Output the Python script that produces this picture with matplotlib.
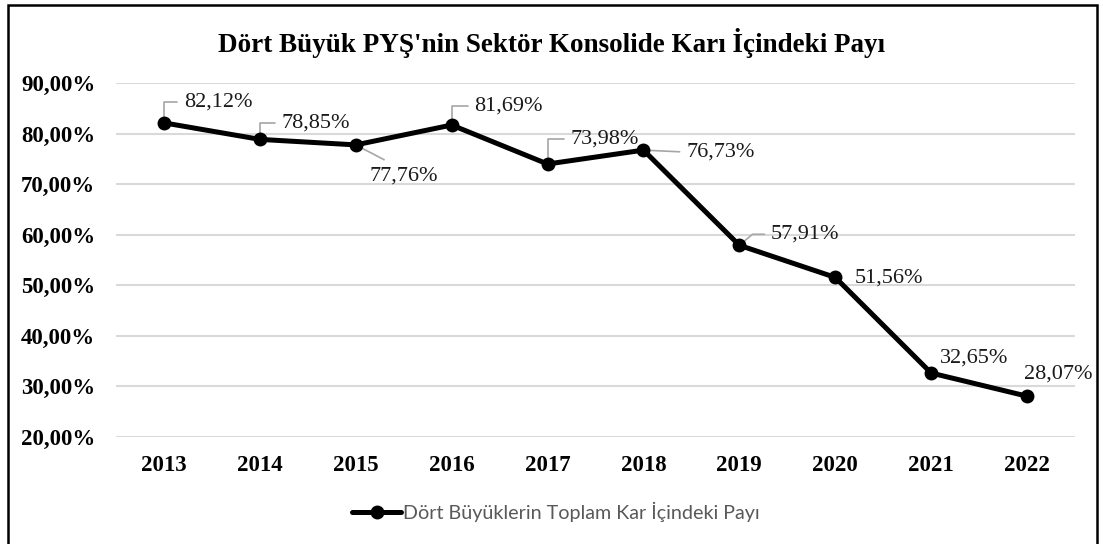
import matplotlib.pyplot as plt
from matplotlib.patches import Rectangle
from matplotlib.ticker import FuncFormatter

years = ["2013", "2014", "2015", "2016", "2017", "2018", "2019", "2020", "2021", "2022"]
share = [82.12, 78.85, 77.76, 81.69, 73.98, 76.73, 57.91, 51.56, 32.65, 28.07]

# label offsets in pixels (dx, dy) and leader style for each point
labelOffsets = [(54, 21), (56, 16), (48, -31), (57, 19), (57, 25),
                (77, -2), (66, 11), (54, -1), (43, 15), (31, 22)]
leaders = ["elbow", "elbow", "diag", "elbow", "elbow",
           "straight", "bend", None, None, None]

title = "Dört Büyük PYŞ'nin Sektör Konsolide Karı İçindeki Payı"
seriesName = "Dört Büyüklerin Toplam Kar İçindeki Payı"

plt.rcParams['font.family'] = ['Liberation Serif', 'DejaVu Serif']

W, H = 1103, 544
fig = plt.figure(figsize=(W / 100, H / 100), dpi=100)
ax = fig.add_axes([116 / W, 1 - 437 / H, (1075 - 116) / W, (437 - 83) / H])

x = list(range(len(years)))
ax.plot(x, share, color="black", lw=3.6, marker="o", markersize=9,
        solid_capstyle="round", zorder=4, label=seriesName)

ax.set_xlim(-0.5, len(years) - 0.5)
ax.set_ylim(20, 90)
ax.set_yticks([20, 30, 40, 50, 60, 70, 80, 90])
ax.yaxis.set_major_formatter(FuncFormatter(lambda v, p: ("%.2f" % v).replace(".", ",") + "%"))
ax.set_xticks(x)
ax.set_xticklabels(years)
for lab in ax.get_xticklabels() + ax.get_yticklabels():
    lab.set_fontweight("bold")
    lab.set_fontsize(16.5)
ax.tick_params(length=0)
ax.tick_params(axis="y", pad=15)
ax.tick_params(axis="x", pad=13)
ax.grid(axis="y", color="#d9d9d9", lw=1.5, zorder=0)
ax.set_axisbelow(True)
for s in ax.spines.values():
    s.set_visible(False)

# data labels
for i in range(len(years)):
    txt = ("%.2f" % share[i]).replace(".", ",") + "%"
    dx, dy = labelOffsets[i]
    kind = leaders[i]
    arrow = None
    if kind == "elbow":
        arrow = dict(arrowstyle="-", color="#a6a6a6", lw=1.2, shrinkA=0, shrinkB=4,
                     relpos=(0, 0.5), connectionstyle="angle,angleA=0,angleB=90,rad=0")
    elif kind == "bend":
        arrow = dict(arrowstyle="-", color="#a6a6a6", lw=1.2, shrinkA=0, shrinkB=4,
                     relpos=(0, 0.5), connectionstyle="angle,angleA=0,angleB=40,rad=0")
    elif kind == "diag":
        arrow = dict(arrowstyle="-", color="#a6a6a6", lw=1.2, shrinkA=0, shrinkB=4,
                     relpos=(0.4, 1))
    elif kind == "straight":
        arrow = dict(arrowstyle="-", color="#a6a6a6", lw=1.2, shrinkA=0, shrinkB=4,
                     relpos=(0, 0.5))
    ax.annotate(txt, xy=(x[i], share[i]), xytext=(dx, dy), textcoords="offset pixels",
                ha="center", va="center", fontsize=16, color="#1a1a1a",
                bbox=dict(boxstyle="square,pad=0.3", fc="none", ec="none"),
                arrowprops=arrow, zorder=3)

fig.text(0.5, 1 - 52 / H, title, ha="center", va="baseline",
         fontsize=19.5, fontweight="bold")

leg = fig.legend(loc="center", bbox_to_anchor=(556 / W, 1 - 512 / H), frameon=False,
                 handlelength=2.5, handletextpad=0.1,
                 prop={"family": "Lato", "size": 14.2})
for t in leg.get_texts():
    t.set_color("#595959")

# outer frame
fig.patches.append(Rectangle((8 / W, -0.05), (1097 - 8) / W, 1.05 - 5 / H,
                             transform=fig.transFigure, fill=False,
                             ec="black", lw=1.8))

plt.savefig("out.png", dpi=100)
